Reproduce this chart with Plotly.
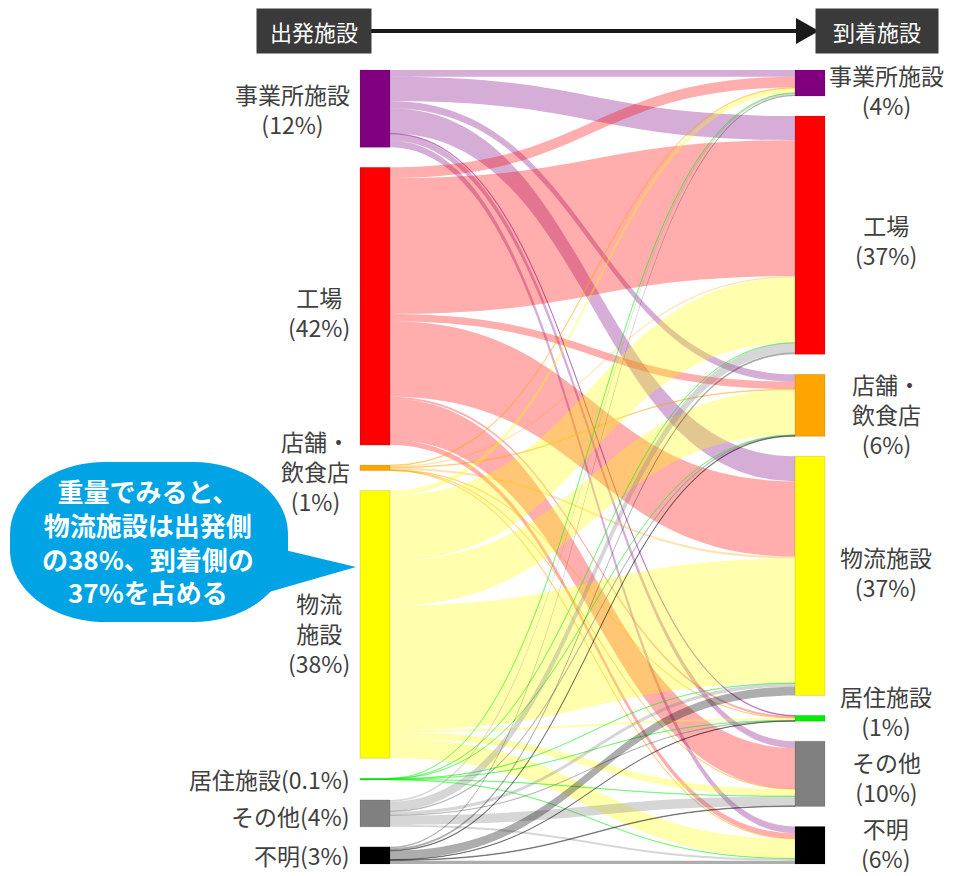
import plotly.graph_objects as go

# facilities, top to bottom (same order on both sides)
facilities = ["事業所施設", "工場", "店舗・飲食店", "物流施設", "居住施設", "その他", "不明"]
origin_labels = ["事業所施設<br>(12%)", "工場<br>(42%)", "店舗・<br>飲食店<br>(1%)",
                 "物流<br>施設<br>(38%)", "居住施設(0.1%)", "その他(4%)", "不明(3%)"]
dest_labels = ["事業所施設<br>(4%)", "工場<br>(37%)", "店舗・<br>飲食店<br>(6%)",
               "物流施設<br>(37%)", "居住施設<br>(1%)", "その他<br>(10%)", "不明<br>(6%)"]
node_colors = ["#800080", "#ff0000", "#ffa500", "#ffff00", "#00ee00", "#808080", "#000000"]

# weight share (%) per origin, columns follow `facilities` as destination
from_office = [1.0, 3.6, 1.1, 3.7, 0.1, 1.0, 1.0]
from_factory = [1.6, 20.2, 1.1, 11.2, 0.3, 6.1, 0.8]
from_shop = [0.1, 0.2, 0.1, 0.3, 0.02, 0.05, 0.05]
from_logistics = [0.7, 9.7, 6.7, 18.5, 0.3, 1.0, 2.9]
from_housing = [0.02, 0.03, 0.02, 0.05, 0.05, 0.05, 0.03]
from_other = [0.25, 1.4, 0.1, 0.5, 0.05, 1.4, 0.3]
from_unknown = [0.2, 0.3, 0.1, 1.3, 0.05, 0.1, 0.5]
flows = [from_office, from_factory, from_shop, from_logistics,
         from_housing, from_other, from_unknown]

W, H = 953, 876
FONT = "Noto Sans CJK JP"
TEXT = "#404040"

# small vertical nudges of the side labels (pixels), as in the original layout
left_nudge = [0, 6, 3, 9, 0, 3, 0]
right_nudge = [7, 5, 9, -4, -7, 3, -2]


def px(x):
    return x / W


def py(y):
    return 1 - y / H


def rgba(hex_color, alpha):
    h = hex_color.lstrip("#")
    r, g, b = (int(h[i:i + 2], 16) for i in (0, 2, 4))
    return f"rgba({r},{g},{b},{alpha})"


n = len(facilities)
sources, targets, values, link_colors = [], [], [], []
for i, row in enumerate(flows):
    for j, v in enumerate(row):
        sources.append(i)
        targets.append(n + j)
        values.append(v)
        link_colors.append(rgba(node_colors[i], 0.32))

# sankey frame (pixels)
left, right, top, bottom = 360, 825, 70, 864
pad, thick = 20, 30
dom_x = [px(left), px(right)]
dom_y = [py(bottom), py(top)]
frame_w, frame_h = right - left, bottom - top

out_tot = [sum(r) for r in flows]
in_tot = [sum(r[j] for r in flows) for j in range(n)]
ky = (frame_h - (n - 1) * pad) / max(sum(out_tot), sum(in_tot))


def centers(totals):
    res, y0 = [], 0
    for v in totals:
        res.append(y0 + v * ky / 2)
        y0 += v * ky + pad
    return res


left_c = centers(out_tot)
right_c = centers(in_tot)
node_x = [thick / 2 / frame_w] * n + [1 - thick / 2 / frame_w] * n
node_y = [c / frame_h for c in left_c + right_c]

fig = go.Figure(go.Sankey(
    domain=dict(x=dom_x, y=dom_y),
    arrangement="fixed",
    node=dict(
        label=[""] * (2 * n),
        customdata=facilities + facilities,
        hovertemplate="%{customdata}<extra></extra>",
        color=node_colors + node_colors,
        x=node_x, y=node_y,
        pad=pad, thickness=thick,
        line=dict(color="rgba(0,0,0,0.12)", width=1),
    ),
    link=dict(
        source=sources, target=targets, value=values,
        color=link_colors,
        line=dict(width=0),
        hoverinfo="none",
    ),
))

annotations = []
for i in range(n):
    annotations.append(dict(
        x=px(left - 8), y=py(top + left_c[i] + left_nudge[i]), xref="paper", yref="paper",
        xanchor="right", yanchor="middle", align="center", showarrow=False,
        text=origin_labels[i], font=dict(family=FONT, size=23, color=TEXT),
    ))
    annotations.append(dict(
        x=px(886), y=py(top + right_c[i] + right_nudge[i]), xref="paper", yref="paper",
        xanchor="center", yanchor="middle", align="center", showarrow=False,
        text=dest_labels[i], font=dict(family=FONT, size=23, color=TEXT),
    ))

# header boxes
for label, cx, bw in [("出発施設", 314, 112), ("到着施設", 877, 120)]:
    annotations.append(dict(
        x=px(cx), y=py(31), xref="paper", yref="paper",
        xanchor="center", yanchor="middle", showarrow=False,
        text=label, width=bw, height=42, bgcolor="#3a3a3a",
        font=dict(family=FONT, size=22, color="white"),
    ))

# callout text
annotations.append(dict(
    x=px(148), y=py(541), xref="paper", yref="paper",
    xanchor="center", yanchor="middle", align="center", showarrow=False,
    text="<b>重量でみると、<br>物流施設は出発側<br>の38%、到着側の<br>37%を占める</b>",
    font=dict(family=FONT, size=26, color="white"),
))


def path(points):
    return "M " + " L ".join(f"{px(x)},{py(y)}" for x, y in points) + " Z"


# rounded callout body
bx0, bx1, by0, by1, rx, ry = 10, 288, 462, 622, 95, 72
k = 0.5523
body = (
    f"M {px(bx0 + rx)},{py(by0)} L {px(bx1 - rx)},{py(by0)} "
    f"C {px(bx1 - rx + k * rx)},{py(by0)} {px(bx1)},{py(by0 + ry - k * ry)} {px(bx1)},{py(by0 + ry)} "
    f"L {px(bx1)},{py(by1 - ry)} "
    f"C {px(bx1)},{py(by1 - ry + k * ry)} {px(bx1 - rx + k * rx)},{py(by1)} {px(bx1 - rx)},{py(by1)} "
    f"L {px(bx0 + rx)},{py(by1)} "
    f"C {px(bx0 + rx - k * rx)},{py(by1)} {px(bx0)},{py(by1 - ry + k * ry)} {px(bx0)},{py(by1 - ry)} "
    f"L {px(bx0)},{py(by0 + ry)} "
    f"C {px(bx0)},{py(by0 + ry - k * ry)} {px(bx0 + rx - k * rx)},{py(by0)} {px(bx0 + rx)},{py(by0)} Z"
)
bubble = "#00a3e4"
shapes = [
    dict(type="path", xref="paper", yref="paper", path=body,
         fillcolor=bubble, line=dict(width=0), layer="above"),
    dict(type="path", xref="paper", yref="paper",
         path=path([(268, 546), (356, 567), (262, 594)]),
         fillcolor=bubble, line=dict(width=0), layer="above"),
    # header arrow
    dict(type="line", xref="paper", yref="paper",
         x0=px(370), x1=px(800), y0=py(31), y1=py(31),
         line=dict(color="#1a1a1a", width=4)),
    dict(type="path", xref="paper", yref="paper",
         path=path([(796, 18), (819, 31), (796, 44)]),
         fillcolor="#1a1a1a", line=dict(width=0)),
]

fig.update_layout(
    width=W, height=H,
    margin=dict(l=0, r=0, t=0, b=0),
    paper_bgcolor="white", plot_bgcolor="white",
    font=dict(family=FONT, color=TEXT),
    annotations=annotations,
    shapes=shapes,
)

# the page body has a default 8px margin; drop it so the figure fills the window
fig.write_html("out.html", config={"displayModeBar": False},
               post_script="document.body.style.margin='0px';")
